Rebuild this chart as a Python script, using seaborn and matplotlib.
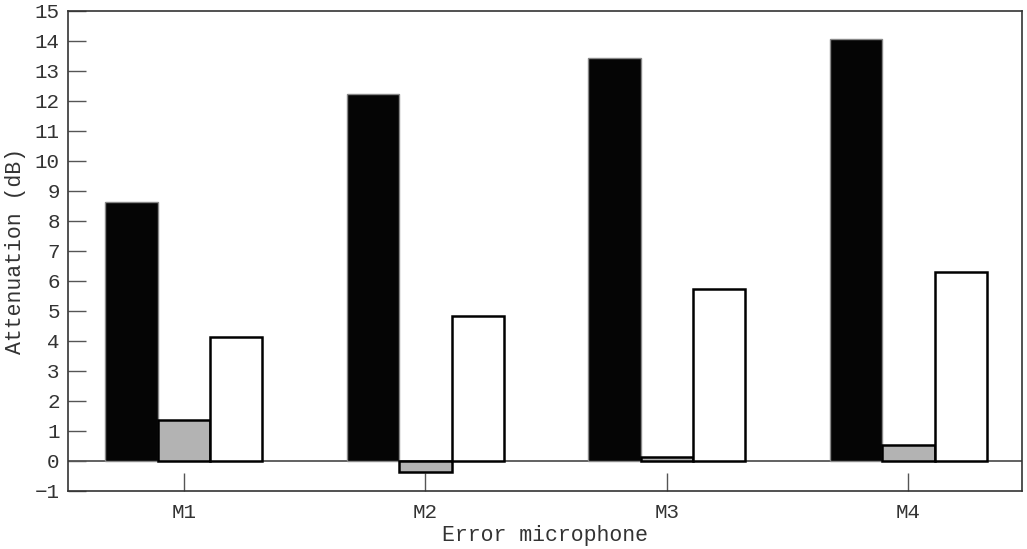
import matplotlib
matplotlib.use("Agg")
import matplotlib.pyplot as plt
import seaborn as sns
import pandas as pd

categories = ["M1", "M2", "M3", "M4"]
series_names = ["A", "B", "C"]
series_a = [8.63, 12.25, 13.43, 14.07]
series_b = [1.37, -0.35, 0.13, 0.55]
series_c = [4.15, 4.83, 5.75, 6.30]
yticks = list(range(-1, 16))

rows = []
for name, vals in zip(series_names, [series_a, series_b, series_c]):
    for c, v in zip(categories, vals):
        rows.append({"cat": c, "series": name, "val": v})
df = pd.DataFrame(rows)

sns.set_style("white")
plt.rcParams["font.family"] = ["Liberation Mono", "DejaVu Sans Mono"]

fig = plt.figure(figsize=(10.27, 5.49), dpi=100)
ax = fig.add_axes([68/1027, 1-491/549, (1022-68)/1027, (491-11)/549])

ax.axhline(0, color="#555555", lw=1.3, zorder=0.5)
sns.barplot(data=df, x="cat", y="val", hue="series", order=categories,
            hue_order=series_names, palette=["#050505", "#b3b3b3", "#ffffff"],
            width=0.65, gap=0, ax=ax, legend=False, errorbar=None,
            saturation=1, zorder=2)

for cont, ec, lw in zip(ax.containers, ["#888888", "black", "black"], [1.0, 1.8, 1.8]):
    for p in cont:
        p.set_edgecolor(ec)
        p.set_linewidth(lw)

ax.set_xlim(-0.48, 3.47)
ax.set_ylim(-1, 15)
ax.set_yticks(yticks)
ax.tick_params(axis="both", direction="in", length=13, width=1, color="#555555",
               labelsize=15, labelcolor="#333333", pad=6, bottom=True, left=True)
ax.tick_params(axis="x", pad=9)
ax.set_xlabel("Error microphone", fontsize=15.5, labelpad=2, color="#333333")
ax.set_ylabel("Attenuation (dB)", fontsize=15.5, labelpad=6, color="#333333")
for s in ax.spines.values():
    s.set_visible(True)
    s.set_color("#333333")
    s.set_linewidth(1.2)

fig.savefig("out.png", dpi=100)
